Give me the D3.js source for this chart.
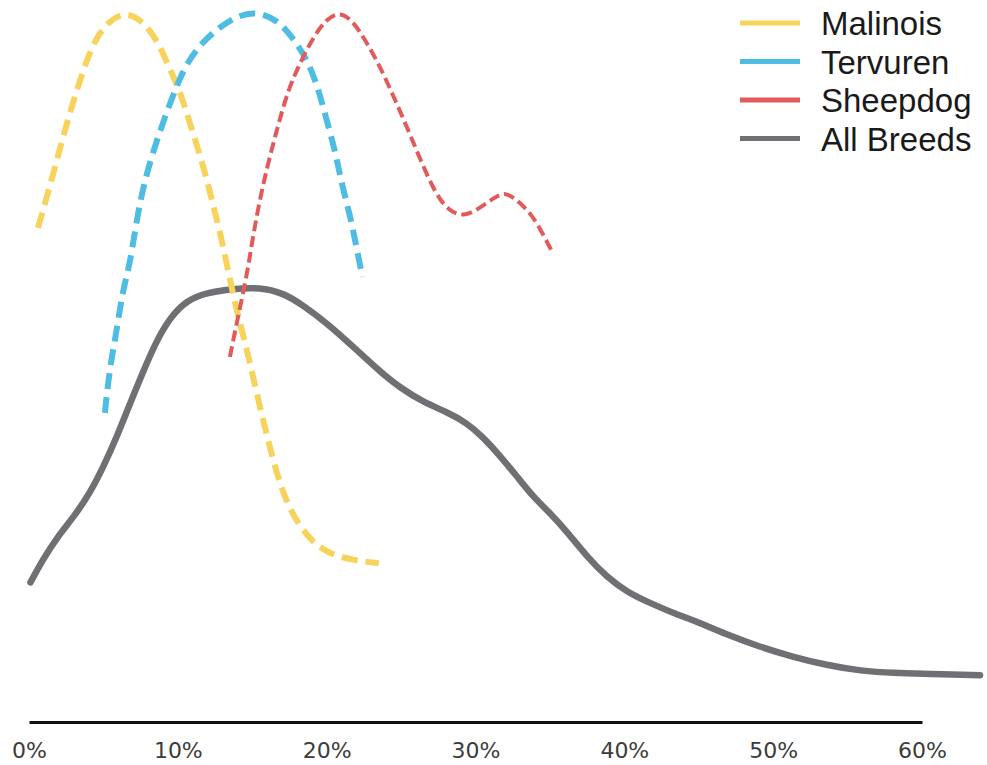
<!DOCTYPE html>
<html>
<head>
<meta charset="utf-8">
<script src="https://cdn.jsdelivr.net/npm/d3@7"></script>
<style>
  html, body { margin: 0; padding: 0; background: #fff; }
  svg { display: block; }
</style>
</head>
<body>
<svg id="chart" width="987" height="765"></svg>
<script>
// ---- Data (x = percent, y = relative density, each series scaled to its own peak) ----
const tickValues = [0, 10, 20, 30, 40, 50, 60];
const seriesNames = ["Malinois", "Tervuren", "Sheepdog", "All Breeds"];
const seriesColors = ["#f8d35c", "#4fbde3", "#e25a5a", "#6f7073"];

const malinoisX = [0.6, 1.4, 2.1, 2.8, 3.6, 4.4, 5.4, 6.6, 7.7, 8.6, 9.3, 10.2, 10.8, 11.6, 12.3, 13.0, 13.6, 14.0, 14.7, 15.3, 16.0, 16.7, 17.5, 18.7, 20.0, 21.8, 23.5];
const malinoisY = [0.697, 0.755, 0.811, 0.863, 0.917, 0.962, 0.990, 1.002, 0.987, 0.962, 0.929, 0.887, 0.845, 0.793, 0.736, 0.676, 0.614, 0.577, 0.520, 0.464, 0.402, 0.346, 0.299, 0.261, 0.238, 0.228, 0.224];

const tervurenX = [5.1, 5.4, 5.9, 6.3, 6.8, 7.3, 7.9, 8.6, 9.3, 10.0, 10.6, 11.6, 12.8, 14.0, 15.3, 16.7, 17.7, 18.7, 19.4, 20.0, 20.6, 21.0, 21.6, 22.0, 22.4];
const tervurenY = [0.436, 0.496, 0.553, 0.609, 0.647, 0.718, 0.774, 0.821, 0.863, 0.901, 0.929, 0.958, 0.980, 0.996, 1.002, 0.990, 0.966, 0.934, 0.896, 0.849, 0.803, 0.760, 0.712, 0.670, 0.628];

const sheepdogX = [13.5, 14.0, 14.7, 14.9, 15.4, 16.0, 16.7, 17.4, 18.2, 19.1, 20.0, 20.9, 21.8, 22.7, 23.6, 24.5, 25.4, 26.3, 27.2, 28.1, 29.2, 30.3, 31.2, 32.0, 32.8, 33.7, 34.5, 35.2];
const sheepdogY = [0.515, 0.567, 0.637, 0.666, 0.726, 0.783, 0.839, 0.891, 0.929, 0.966, 0.992, 1.002, 0.988, 0.958, 0.924, 0.882, 0.839, 0.793, 0.750, 0.722, 0.712, 0.725, 0.739, 0.748, 0.736, 0.718, 0.690, 0.661];

const allBreedsX = [0.1, 0.9, 1.9, 3.0, 4.1, 5.0, 5.9, 6.8, 7.7, 8.6, 9.5, 10.6, 12.0, 13.7, 15.5, 17.1, 18.4, 20.0, 21.8, 23.6, 24.9, 26.5, 28.1, 29.4, 30.5, 31.7, 32.8, 33.9, 35.0, 36.2, 37.5, 38.8, 40.2, 41.7, 43.6, 44.6, 46.9, 49.1, 51.3, 53.6, 55.9, 58.1, 60.4, 63.9];
const allBreedsY = [0.197, 0.228, 0.261, 0.289, 0.323, 0.360, 0.402, 0.450, 0.496, 0.539, 0.571, 0.595, 0.606, 0.611, 0.613, 0.605, 0.588, 0.563, 0.529, 0.494, 0.472, 0.451, 0.437, 0.422, 0.402, 0.374, 0.346, 0.317, 0.295, 0.267, 0.233, 0.205, 0.183, 0.168, 0.151, 0.144, 0.123, 0.106, 0.092, 0.080, 0.072, 0.069, 0.068, 0.066];

// ---- Chart ----
const svg = d3.select("#chart");
const x = d3.scaleLinear().domain([0, 60]).range([29, 922]);
const y = d3.scaleLinear().domain([0, 1]).range([722, 13]);

const series = [
  { name: seriesNames[0], xs: malinoisX, ys: malinoisY, color: seriesColors[0], width: 6, dash: "16,8", cap: "butt" },
  { name: seriesNames[1], xs: tervurenX, ys: tervurenY, color: seriesColors[1], width: 6, dash: "16,8", cap: "butt" },
  { name: seriesNames[2], xs: sheepdogX, ys: sheepdogY, color: seriesColors[2], width: 4, dash: "11,5", cap: "butt" },
  { name: seriesNames[3], xs: allBreedsX, ys: allBreedsY, color: seriesColors[3], width: 6.5, dash: null, cap: "round" }
];

const line = d3.line()
  .x(d => x(d[0]))
  .y(d => y(d[1]))
  .curve(d3.curveBasis);

// draw order: all breeds first, then dashed curves on top
const drawOrder = [3, 0, 1, 2];
drawOrder.forEach(i => {
  const s = series[i];
  const pts = s.xs.map((v, k) => [v, s.ys[k]]);
  svg.append("path")
    .datum(pts)
    .attr("d", line)
    .attr("fill", "none")
    .attr("stroke", s.color)
    .attr("stroke-width", s.width)
    .attr("stroke-linecap", s.cap)
    .attr("stroke-linejoin", "round")
    .attr("stroke-dasharray", s.dash);
});

// X axis
const axis = d3.axisBottom(x)
  .tickValues(tickValues)
  .tickFormat(d => d + "%")
  .tickSize(0)
  .tickSizeOuter(0);

const gAxis = svg.append("g")
  .attr("transform", "translate(0,722)")
  .call(axis);
gAxis.select(".domain").attr("stroke", "#111").attr("stroke-width", 3);
gAxis.selectAll("text")
  .attr("y", 36)
  .attr("dy", 0)
  .attr("fill", "#3c3c3c")
  .attr("font-family", "DejaVu Sans, sans-serif")
  .attr("font-size", 22);

// Legend
const legend = svg.append("g").attr("transform", "translate(740,0)");
series.forEach((s, i) => {
  const yy = 23 + i * 38.5;
  legend.append("line")
    .attr("x1", 0).attr("x2", 60)
    .attr("y1", yy).attr("y2", yy)
    .attr("stroke", s.color)
    .attr("stroke-width", 5);
  legend.append("text")
    .attr("x", 81)
    .attr("y", yy + 12)
    .attr("fill", "#1a1a1a")
    .attr("font-family", "Liberation Sans, Arial, sans-serif")
    .attr("font-size", 33)
    .text(s.name);
});
</script>
</body>
</html>
